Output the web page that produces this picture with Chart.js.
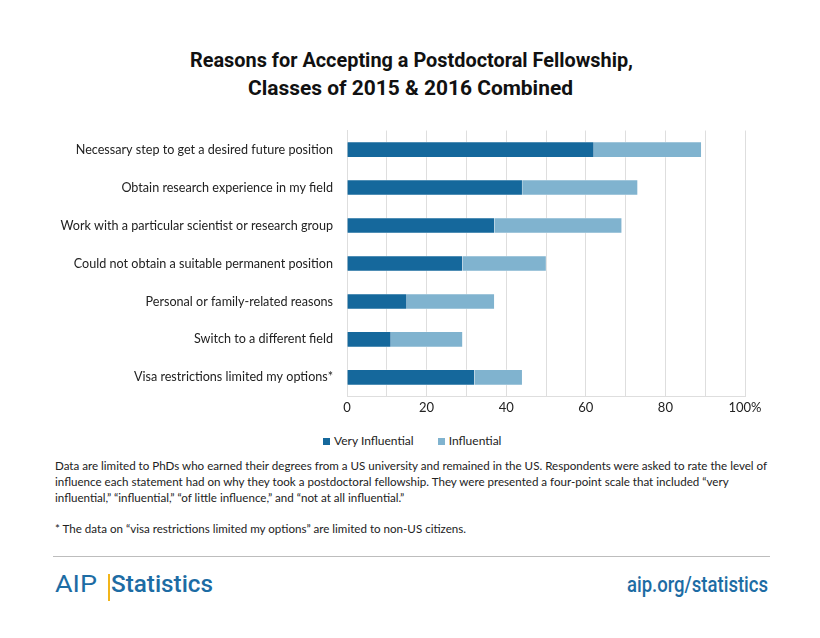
<!DOCTYPE html>
<html>
<head>
<meta charset="utf-8">
<script src="https://cdn.jsdelivr.net/npm/chart.js@4"></script>
<style>
  body { margin: 0; background: #fff; width: 820px; height: 638px; position: relative; overflow: hidden; font-family: Lato, "Open Sans", sans-serif; }
  .fit { position: absolute; white-space: nowrap; transform-origin: 0 0; }
  .title { font-family: Roboto, "Liberation Sans", sans-serif; font-weight: bold; font-size: 21px; color: #111; }
  #wrap { position: absolute; left: 0; top: 118px; width: 820px; height: 302px; }
  #legend { position: absolute; left: 323px; top: 433px; font-size: 12px; color: #222; white-space: nowrap; }
  #legend span.box { display: inline-block; width: 7px; height: 7px; margin-right: 4px; vertical-align: 0px; }
  #legend span.item { margin-right: 24px; }
  #notes { position: absolute; left: 55px; top: 458px; width: 760px; font-size: 11.6px; line-height: 16px; color: #222; }
  #notes p { margin: 0 0 15px 0; }
  #rule { position: absolute; left: 53px; top: 556px; width: 717px; height: 0; border-top: 1.5px solid #bdbdbd; }
  .brand { font-family: Roboto, "Liberation Sans", sans-serif; color: #1d6ca4; }
  #ybar { position: absolute; left: 108px; top: 574px; width: 2px; height: 27px; background: #f2b51a; }
</style>
</head>
<body>
<div class="fit title" id="t1" data-w="443" data-cx="411" style="top:48px">Reasons for Accepting a Postdoctoral Fellowship,</div>
<div class="fit title" id="t2" data-w="325" data-cx="410" style="top:76px">Classes of 2015 &amp; 2016 Combined</div>
<div id="wrap"><canvas id="chart"></canvas></div>
<div id="legend"></div>
<div id="notes">
  <p>Data are limited to PhDs who earned their degrees from a US university and remained in the US. Respondents were asked to rate the level of<br>influence each statement had on why they took a postdoctoral fellowship. They were presented a four-point scale that included “very<br>influential,” “influential,” “of little influence,” and “not at all influential.”</p>
  <p>* The data on “visa restrictions limited my options” are limited to non-US citizens.</p>
</div>
<div id="rule"></div>
<div class="fit brand" data-w="42" data-x="55" style="top:570px;font-size:24px;">AIP</div>
<div id="ybar"></div>
<div class="fit brand" data-w="102" data-x="111" style="top:570px;font-size:24px;font-weight:500;">Statistics</div>
<div class="fit brand" data-w="141" data-x="627" style="top:572px;font-size:22px;font-weight:500;">aip.org/statistics</div>
<script>
const reasons = [
    "Necessary step to get a desired future position",
    "Obtain research experience in my field",
    "Work with a particular scientist or research group",
    "Could not obtain a suitable permanent position",
    "Personal or family-related reasons",
    "Switch to a different field",
    "Visa restrictions limited my options*"
];
const veryInfluential = [62, 44, 37, 29, 15, 11, 32];
const influential = [27, 29, 32, 21, 22, 18, 12];
const xTicks = [0, 20, 40, 60, 80, 100];

const darkBlue = '#15689c';
const lightBlue = '#80b3cf';

// squeeze wide fonts to the condensed look of the original
document.querySelectorAll('.fit').forEach(el => {
    const w = el.getBoundingClientRect().width;
    const k = +el.dataset.w / w;
    el.style.transform = `scaleX(${k})`;
    const left = el.dataset.cx ? +el.dataset.cx - +el.dataset.w / 2 : +el.dataset.x;
    el.style.left = left + 'px';
});

const chart = new Chart(document.getElementById('chart'), {
    type: 'bar',
    data: {
        labels: reasons,
        datasets: [
            { label: 'Very Influential', data: veryInfluential, backgroundColor: darkBlue, borderColor: '#ffffff', borderWidth: 0.5, barThickness: 15 },
            { label: 'Influential', data: influential, backgroundColor: lightBlue, borderColor: '#ffffff', borderWidth: 0.5, barThickness: 15 }
        ]
    },
    options: {
        indexAxis: 'y',
        responsive: true,
        maintainAspectRatio: false,
        animation: false,
        layout: { padding: { left: 0, right: 75, top: 10, bottom: 0 } },
        plugins: {
            legend: { display: false },
            tooltip: { enabled: false }
        },
        scales: {
            x: {
                stacked: true,
                min: 0, max: 100,
                ticks: {
                    stepSize: 10,
                    color: '#222',
                    padding: 4,
                    font: { family: 'Lato', size: 13 },
                    callback: v => xTicks.includes(v) ? (v === 100 ? '100%' : v) : ''
                },
                grid: { color: '#dedede', lineWidth: 1, drawTicks: false },
                border: { color: '#dedede' }
            },
            y: {
                stacked: true,
                ticks: { color: '#222', font: { family: 'Lato', size: 12.6 }, padding: 5 },
                grid: { display: true, drawOnChartArea: false, drawTicks: true, tickLength: 9, tickColor: 'rgba(0,0,0,0)' },
                border: { color: '#dedede' },
                afterFit: s => { s.width = 347; }
            }
        }
    }
});

document.getElementById('legend').innerHTML = chart.data.datasets.map(d =>
    `<span class="item"><span class="box" style="background:${d.backgroundColor}"></span>${d.label}</span>`).join('');
</script>
</body>
</html>
